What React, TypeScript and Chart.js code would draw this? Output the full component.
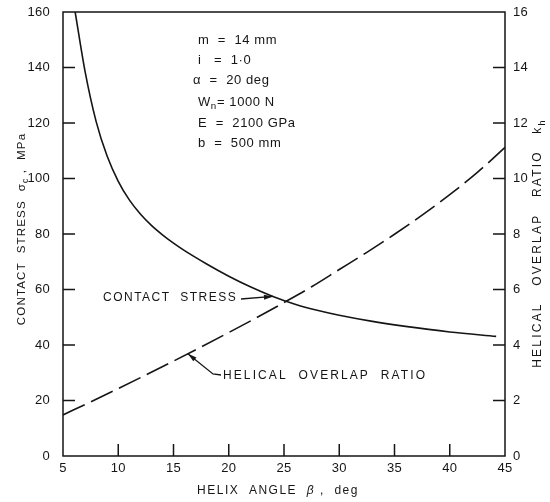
import React, { useEffect, useRef } from "react";
import { Chart, registerables } from "chart.js";

Chart.register(...registerables);

// ---------- data ----------
const stressBeta = [6.1, 7, 8, 9, 10, 11, 12, 13, 14, 15, 16, 18, 20, 22, 24, 26, 28, 30, 33, 36, 40, 44.2];
const stressValues = [160, 138.5, 120.5, 108, 99, 92.3, 87.2, 83.1, 79.7, 76.7, 74.0, 69.2, 64.8, 60.9, 57.5, 54.7, 52.5, 50.7, 48.5, 46.7, 44.7, 43.1];

const overlapBeta = [5, 7.5, 10, 12.5, 15, 17.5, 20, 22.5, 25, 27.5, 30, 32.5, 35, 37.5, 40, 42.5, 45];
const overlapValues = [1.48, 1.95, 2.43, 2.92, 3.42, 3.93, 4.45, 4.98, 5.53, 6.1, 6.72, 7.34, 7.99, 8.68, 9.42, 10.22, 11.12];

const xTicks = [5, 10, 15, 20, 25, 30, 35, 40, 45];
const leftTicks = [0, 20, 40, 60, 80, 100, 120, 140, 160];
const rightTicks = [0, 2, 4, 6, 8, 10, 12, 14, 16];

const paramLines = ["m  =  14 mm", "i   =  1·0", "α  =  20 deg", "W|n|= 1000 N", "E  =  2100 GPa", "b  =  500 mm"];
const contactLabel = "CONTACT  STRESS";
const overlapLabel = "HELICAL  OVERLAP  RATIO";
const contactArrowBeta = 24;
const overlapArrowBeta = 16.3;

const FONT = '"Liberation Sans", Arial, sans-serif';
const INK = "#151515";

type Run = { t: string; sub?: boolean; italic?: boolean };

function setFont(ctx: CanvasRenderingContext2D, size: number, italic?: boolean) {
  ctx.font = `${italic ? "italic " : ""}${size}px ${FONT}`;
}

function runsWidth(ctx: CanvasRenderingContext2D, runs: Run[], size: number, ls: number) {
  let w = 0;
  for (const r of runs) {
    setFont(ctx, r.sub ? size * 0.75 : size, r.italic);
    (ctx as any).letterSpacing = `${ls}px`;
    w += ctx.measureText(r.t).width;
  }
  return w;
}

function drawRuns(
  ctx: CanvasRenderingContext2D,
  runs: Run[],
  x: number,
  y: number,
  size: number,
  ls: number,
  align: "left" | "center" | "right"
) {
  const total = runsWidth(ctx, runs, size, ls);
  let cx = align === "left" ? x : align === "center" ? x - total / 2 : x - total;
  ctx.textAlign = "left";
  ctx.textBaseline = "middle";
  for (const r of runs) {
    const s = r.sub ? size * 0.75 : size;
    setFont(ctx, s, r.italic);
    (ctx as any).letterSpacing = `${ls}px`;
    ctx.fillText(r.t, cx, r.sub ? y + size * 0.35 : y);
    cx += ctx.measureText(r.t).width;
  }
  (ctx as any).letterSpacing = "0px";
}

function parseRuns(s: string): Run[] {
  const parts = s.split("|");
  return parts.map((t, i) => ({ t, sub: i % 2 === 1 }));
}

function arrowHead(ctx: CanvasRenderingContext2D, fx: number, fy: number, tx: number, ty: number, len: number, wid: number) {
  const a = Math.atan2(ty - fy, tx - fx);
  ctx.beginPath();
  ctx.moveTo(tx, ty);
  ctx.lineTo(tx - len * Math.cos(a) + wid * Math.sin(a), ty - len * Math.sin(a) - wid * Math.cos(a));
  ctx.lineTo(tx - len * Math.cos(a) - wid * Math.sin(a), ty - len * Math.sin(a) + wid * Math.cos(a));
  ctx.closePath();
  ctx.fill();
}

function interp(xs: number[], ys: number[], x: number) {
  for (let i = 0; i < xs.length - 1; i++) {
    if (x >= xs[i] && x <= xs[i + 1]) {
      const t = (x - xs[i]) / (xs[i + 1] - xs[i]);
      return ys[i] + t * (ys[i + 1] - ys[i]);
    }
  }
  return ys[ys.length - 1];
}

const decorPlugin = {
  id: "decor",
  afterDraw(chart: any) {
    const ctx: CanvasRenderingContext2D = chart.ctx;
    const { left, right, top, bottom } = chart.chartArea;
    const xs = chart.scales.x;
    const ys = chart.scales.y;
    const y1 = chart.scales.y1;
    ctx.save();
    ctx.strokeStyle = INK;
    ctx.fillStyle = INK;
    ctx.lineWidth = 1.5;
    ctx.lineCap = "butt";
    // frame
    ctx.strokeRect(left, top, right - left, bottom - top);
    // inward ticks
    ctx.beginPath();
    for (const v of leftTicks) {
      if (v === 0 || v === 160) continue;
      const p = ys.getPixelForValue(v);
      ctx.moveTo(left, p);
      ctx.lineTo(left + 12, p);
    }
    for (const v of rightTicks) {
      if (v === 0 || v === 16) continue;
      const p = y1.getPixelForValue(v);
      ctx.moveTo(right - 12, p);
      ctx.lineTo(right, p);
    }
    for (const v of xTicks) {
      if (v === 5 || v === 45) continue;
      const p = xs.getPixelForValue(v);
      ctx.moveTo(p, bottom);
      ctx.lineTo(p, bottom - 12);
    }
    ctx.stroke();

    // tick labels
    for (const v of leftTicks) {
      drawRuns(ctx, [{ t: String(v) }], left - 13, ys.getPixelForValue(v), 13, 0.3, "right");
    }
    for (const v of rightTicks) {
      drawRuns(ctx, [{ t: String(v) }], right + 8, y1.getPixelForValue(v), 13, 0.3, "left");
    }
    for (const v of xTicks) {
      drawRuns(ctx, [{ t: String(v) }], xs.getPixelForValue(v), bottom + 12, 13, 0.3, "center");
    }

    // axis titles
    drawRuns(
      ctx,
      [{ t: "HELIX  ANGLE  " }, { t: "β", italic: true }, { t: " ,  deg" }],
      278,
      491,
      12,
      1.5,
      "center"
    );
    ctx.save();
    ctx.translate(22, 229);
    ctx.rotate(-Math.PI / 2);
    drawRuns(
      ctx,
      [{ t: "CONTACT  STRESS  σ" }, { t: "c", sub: true }, { t: " ,  MPa" }],
      0,
      0,
      11.5,
      1.2,
      "center"
    );
    ctx.restore();
    ctx.save();
    ctx.translate(538, 243);
    ctx.rotate(-Math.PI / 2);
    drawRuns(
      ctx,
      [{ t: "HELICAL   OVERLAP   RATIO   k" }, { t: "h", sub: true }],
      0,
      0,
      12,
      2.2,
      "center"
    );
    ctx.restore();

    // parameter block
    const py = [40, 60, 80, 102, 123, 143];
    paramLines.forEach((line, i) => {
      drawRuns(ctx, parseRuns(line), i === 2 ? 193 : 198, py[i], 13, 0.6, "left");
    });

    // curve labels
    const cax = xs.getPixelForValue(contactArrowBeta);
    const cay = ys.getPixelForValue(interp(stressBeta, stressValues, contactArrowBeta));
    drawRuns(ctx, [{ t: contactLabel }], 103, 298, 12, 1.5, "left");
    ctx.lineWidth = 1.3;
    ctx.beginPath();
    ctx.moveTo(241, 299);
    ctx.lineTo(cax, cay);
    ctx.stroke();
    arrowHead(ctx, 241, 299, cax, cay, 9, 2.5);

    const oax = xs.getPixelForValue(overlapArrowBeta);
    const oay = y1.getPixelForValue(interp(overlapBeta, overlapValues, overlapArrowBeta));
    ctx.beginPath();
    ctx.moveTo(oax, oay);
    ctx.lineTo(213, 374);
    ctx.lineTo(221, 375);
    ctx.stroke();
    arrowHead(ctx, 213, 374, oax, oay, 9, 2.5);
    drawRuns(ctx, [{ t: overlapLabel }], 223, 376, 12, 2.1, "left");

    ctx.restore();
  },
};

export default function App() {
  const ref = useRef<HTMLCanvasElement | null>(null);
  useEffect(() => {
    if (!ref.current) return;
    const chart = new Chart(ref.current, {
      type: "line",
      data: {
        datasets: [
          {
            label: "Contact stress",
            data: stressBeta.map((b, i) => ({ x: b, y: stressValues[i] })),
            borderColor: INK,
            borderWidth: 1.6,
            pointRadius: 0,
            cubicInterpolationMode: "monotone",
            yAxisID: "y",
          },
          {
            label: "Helical overlap ratio",
            data: overlapBeta.map((b, i) => ({ x: b, y: overlapValues[i] })),
            borderColor: INK,
            borderWidth: 1.6,
            borderDash: [24, 7],
            pointRadius: 0,
            cubicInterpolationMode: "monotone",
            yAxisID: "y1",
          },
        ],
      },
      options: {
        responsive: false,
        animation: false,
        layout: { padding: { left: 63, right: 45, top: 12, bottom: 46 } },
        scales: {
          x: { type: "linear", min: 5, max: 45, display: false },
          y: { type: "linear", min: 0, max: 160, display: false },
          y1: { type: "linear", min: 0, max: 16, display: false, position: "right" },
        },
        plugins: { legend: { display: false }, tooltip: { enabled: false } },
      },
      plugins: [decorPlugin],
    });
    return () => chart.destroy();
  }, []);
  return (
    <div style={{ position: "fixed", left: 0, top: 0, width: 550, height: 502, background: "#fff" }}>
      <canvas ref={ref} width={550} height={502} />
    </div>
  );
}
